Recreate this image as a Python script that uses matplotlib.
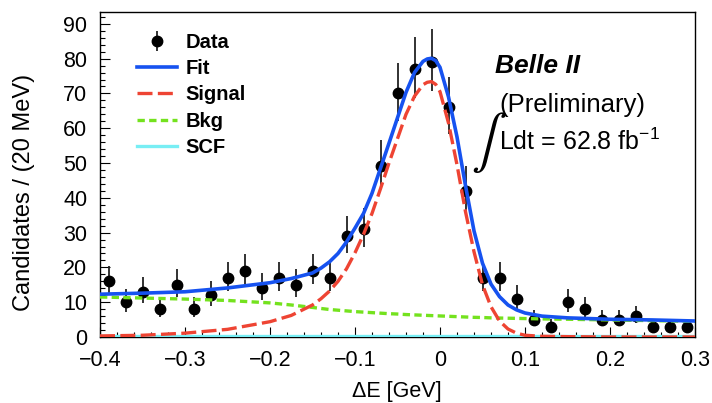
import numpy as np
import matplotlib
matplotlib.use("Agg")
import matplotlib.pyplot as plt
from matplotlib.lines import Line2D
from matplotlib.ticker import MultipleLocator

plt.rcParams["font.family"] = ["Liberation Sans", "DejaVu Sans"]
plt.rcParams["mathtext.fontset"] = "custom"
plt.rcParams["mathtext.rm"] = "Liberation Sans"
plt.rcParams["mathtext.it"] = "Liberation Sans:italic"

# --- data histogram (20 MeV bins)
bin_centers = [-0.39, -0.37, -0.35, -0.33, -0.31, -0.29, -0.27, -0.25, -0.23, -0.21,
               -0.19, -0.17, -0.15, -0.13, -0.11, -0.09, -0.07, -0.05, -0.03, -0.01,
               0.01, 0.03, 0.05, 0.07, 0.09, 0.11, 0.13, 0.15, 0.17, 0.19,
               0.21, 0.23, 0.25, 0.27, 0.29]
counts = [16, 10, 13, 8, 15, 8, 12, 17, 19, 14,
          17, 15, 19, 17, 29, 31, 49, 70, 77, 79,
          66, 42, 17, 17, 11, 5, 3, 10, 8, 5,
          5, 6, 3, 3, 3]

# --- fit curves
curve_x = [-0.40, -0.35, -0.30, -0.25, -0.20, -0.175, -0.15, -0.14, -0.13, -0.12,
           -0.11, -0.10, -0.09, -0.08, -0.07, -0.06, -0.05, -0.04, -0.03, -0.02,
           -0.015, -0.01, -0.005, 0.00, 0.01, 0.02, 0.03, 0.04, 0.05, 0.06,
           0.07, 0.08, 0.09, 0.10, 0.12, 0.15, 0.20, 0.25, 0.30]
fit = [12.3, 12.6, 13.0, 14.1, 15.6, 16.8, 18.4, 19.8, 21.6, 24.0,
       27.3, 31.3, 35.5, 41.3, 48.5, 55.7, 63.0, 70.3, 76.0, 79.2,
       79.9, 80.1, 79.4, 77.5, 69.0, 57.5, 43.5, 30.5, 21.2, 15.2,
       11.6, 9.2, 7.8, 6.9, 6.0, 5.5, 5.1, 4.9, 4.6]
signal = [0.3, 0.5, 1.1, 2.2, 4.4, 6.2, 9.2, 11.0, 13.2, 16.0,
          19.6, 24.2, 29.5, 35.5, 42.6, 50.0, 57.0, 64.0, 69.2, 72.5,
          73.2, 73.4, 72.6, 70.5, 61.5, 49.5, 36.0, 24.5, 15.0, 8.7,
          4.6, 2.3, 1.1, 0.5, 0.2, 0.1, 0.0, 0.0, 0.0]
bkg = [11.5, 11.2, 10.9, 10.5, 9.8, 9.2, 8.5, 8.2, 7.9, 7.7,
       7.5, 7.3, 7.15, 7.0, 6.85, 6.7, 6.6, 6.45, 6.35, 6.25,
       6.2, 6.15, 6.1, 6.05, 5.95, 5.85, 5.75, 5.65, 5.6, 5.5,
       5.45, 5.4, 5.35, 5.3, 5.2, 5.1, 4.9, 4.7, 4.5]
scf_x = [-0.40, 0.30]
scf = [0.2, 0.2]

xticks = [-0.4, -0.3, -0.2, -0.1, 0.0, 0.1, 0.2, 0.3]
xtick_labels = ["\u22120.4", "\u22120.3", "\u22120.2", "\u22120.1", "0", "0.1", "0.2", "0.3"]
yticks = [0, 10, 20, 30, 40, 50, 60, 70, 80, 90]

c_blue = "#1652f0"
c_red = "#ee4433"
c_green = "#74e21e"
c_cyan = "#78eef4"

fig = plt.figure(figsize=(7.12, 4.03), dpi=100)
ax = fig.add_axes([100 / 712, 66 / 403, 595 / 712, 325 / 403])

# Poisson-like asymmetric errors
n = np.array(counts, dtype=float)
err_lo = np.sqrt(n + 0.25) - 0.5
err_hi = np.sqrt(n + 0.25) + 0.5

data_h = ax.errorbar(bin_centers, counts, yerr=[err_lo, err_hi], fmt="o", color="black",
                     ecolor="#222222", elinewidth=1.3, markersize=7.5, capsize=0, zorder=2)

ax.plot(scf_x, scf, color=c_cyan, lw=2.4, zorder=3)
ax.plot(curve_x, bkg, color=c_green, lw=2.4, dashes=(2.2, 1.3), zorder=4)
ax.plot(curve_x, signal, color=c_red, lw=2.4, dashes=(4.5, 1.6), zorder=5)
ax.plot(curve_x, fit, color=c_blue, lw=2.6, zorder=6)

ax.set_xlim(-0.4, 0.3)
ax.set_ylim(0, 93.4)
ax.set_xticks(xticks)
ax.set_xticklabels(xtick_labels)
ax.set_yticks(yticks)
ax.xaxis.set_minor_locator(MultipleLocator(0.02))
ax.yaxis.set_minor_locator(MultipleLocator(2))
ax.tick_params(which="both", direction="in", top=False, right=False, labelsize=15.5, width=0.8)
ax.tick_params(axis="x", which="major", length=7, pad=9)
ax.tick_params(axis="y", which="major", length=7, pad=9)
ax.tick_params(which="minor", length=3.5)
for sp in ax.spines.values():
    sp.set_linewidth(1.0)

fig.text(24 / 712, 1 - 192 / 403, "Candidates / (20 MeV)", rotation=90,
         ha="center", va="center", fontsize=17)
fig.text(397 / 712, 1 - 391 / 403, "\u0394E [GeV]", ha="center", va="center", fontsize=15.5)

# --- legend
handles = [
    data_h,
    Line2D([], [], color=c_blue, lw=2.6),
    Line2D([], [], color=c_red, lw=2.4, dashes=(4.5, 1.6)),
    Line2D([], [], color=c_green, lw=2.4, dashes=(2.2, 1.3)),
    Line2D([], [], color=c_cyan, lw=2.4),
]
labels = ["Data", "Fit", "Signal", "Bkg", "SCF"]
ax.legend(handles, labels, loc="upper left", bbox_to_anchor=(37 / 595, (337 - 33) / 325),
          frameon=False, borderpad=0, borderaxespad=0, handlelength=2.0, handletextpad=0.4,
          labelspacing=0.36, prop={"weight": "bold", "size": 14.5})

# --- labels on the right
ax.text(0.664, 0.812, "Belle II", transform=ax.transAxes, fontsize=19,
        fontweight="bold", fontstyle="italic", va="baseline", ha="left")
ax.text(0.672, 0.692, "(Preliminary)", transform=ax.transAxes, fontsize=18.5,
        va="baseline", ha="left")
ax.text(0.670, 0.575, "Ldt = 62.8 fb$^{-1}$", transform=ax.transAxes, fontsize=18,
        va="baseline", ha="left")
ax.text(0.654, 0.597, "$\\int$", transform=ax.transAxes, fontsize=38,
        math_fontfamily="stixsans", va="center", ha="center")

fig.savefig("out.png", dpi=100)
